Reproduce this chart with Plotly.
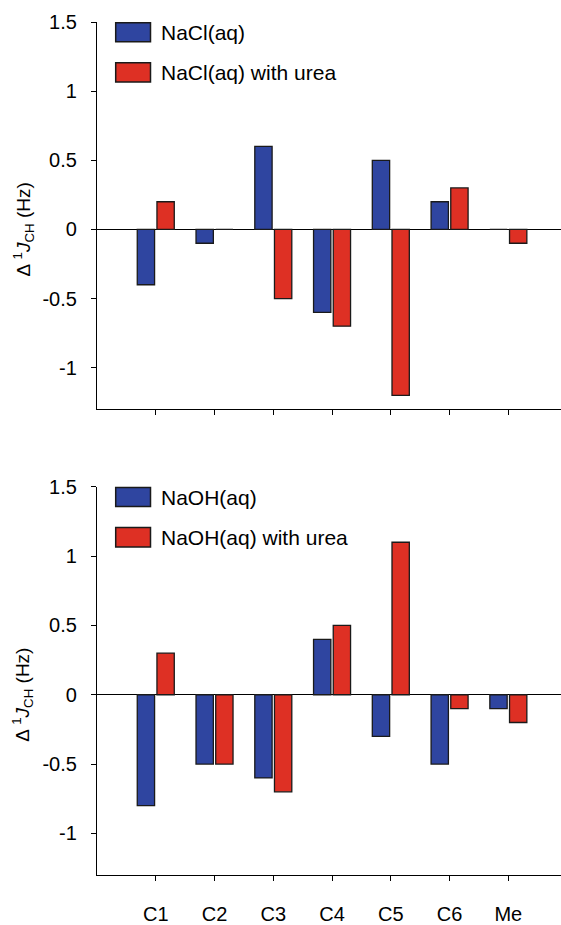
import plotly.graph_objects as go
from plotly.subplots import make_subplots

categories = ["C1", "C2", "C3", "C4", "C5", "C6", "Me"]

nacl = [-0.4, -0.1, 0.6, -0.6, 0.5, 0.2, 0.0]
nacl_urea = [0.2, 0.0, -0.5, -0.7, -1.2, 0.3, -0.1]

naoh = [-0.8, -0.5, -0.6, 0.4, -0.3, -0.5, -0.1]
naoh_urea = [0.3, -0.5, -0.7, 0.5, 1.1, -0.1, -0.2]

series_names_top = ["NaCl(aq)", "NaCl(aq) with urea"]
series_names_bottom = ["NaOH(aq)", "NaOH(aq) with urea"]

BLUE = "#2f45a0"
RED = "#de3024"
EDGE = "#1a1a1a"
FONT = "Liberation Sans, Arial, Helvetica, sans-serif"

fig = make_subplots(rows=2, cols=1, shared_xaxes=False, vertical_spacing=0.0)

x_idx = list(range(len(categories)))

for row, (a, b, names) in enumerate(
    [(nacl, nacl_urea, series_names_top), (naoh, naoh_urea, series_names_bottom)], start=1
):
    fig.add_trace(go.Bar(x=x_idx, y=a, name=names[0], marker=dict(color=BLUE, line=dict(color=EDGE, width=1.3)),
                         showlegend=False), row=row, col=1)
    fig.add_trace(go.Bar(x=x_idx, y=b, name=names[1], marker=dict(color=RED, line=dict(color=EDGE, width=1.3)),
                         showlegend=False), row=row, col=1)

W, H = 561, 925
ml, mt, mb, mr = 97, 22, 46, 0
ph = H - mt - mb
top_dom = [1 - (411 - mt) / ph, 1.0]
bot_dom = [0.0, 1 - (489 - mt) / ph]

axis_common = dict(showline=True, linecolor="black", linewidth=1.3, ticks="outside", ticklen=5,
                   tickwidth=1.3, tickcolor="black", showgrid=False,
                   tickfont=dict(family=FONT, size=20, color="black"))

fig.update_layout(
    width=W, height=H,
    margin=dict(l=ml, r=mr, t=mt, b=mb),
    plot_bgcolor="white", paper_bgcolor="white",
    barmode="group", bargap=0.33, bargroupgap=0.12,
    font=dict(family=FONT, color="black"),
    showlegend=False,
)

fig.update_xaxes(**axis_common, domain=[0, 1], range=[-1, 6.896], tickvals=x_idx, ticktext=categories, zeroline=False)
fig.update_xaxes(showticklabels=False, row=1, col=1)
fig.update_xaxes(ticklabelstandoff=16, row=2, col=1)
fig.update_yaxes(**axis_common, range=[-1.3, 1.5], tickvals=[-1, -0.5, 0, 0.5, 1, 1.5],
                 ticktext=["-1", "-0.5", "0", "0.5", "1", "1.5"],
                 zeroline=True, zerolinecolor="black", zerolinewidth=1.2, ticklabelstandoff=10)
fig.update_yaxes(domain=top_dom, row=1, col=1)
fig.update_yaxes(domain=bot_dom, row=2, col=1)

# custom legends (large swatches) and y-axis titles
pw = W - ml - mr
bx0, bx1 = (115.7 - ml) / pw, (150.5 - ml) / pw
tx = (159 - ml) / pw
for ax_suffix, names in [("", series_names_top), ("2", series_names_bottom)]:
    xr = f"x{ax_suffix} domain"
    yr = f"y{ax_suffix} domain"
    for (y0, y1), col, nm in [((0.949, 0.998), BLUE, names[0]), ((0.845, 0.895), RED, names[1])]:
        fig.add_shape(type="rect", xref=xr, yref=yr, x0=bx0, x1=bx1, y0=y0, y1=y1,
                      fillcolor=col, line=dict(color=EDGE, width=1.5))
        fig.add_annotation(xref=xr, yref=yr, x=tx, y=(y0 + y1) / 2, text=nm, showarrow=False,
                           xanchor="left", yanchor="middle",
                           font=dict(family=FONT, size=21, color="black"))
    fig.add_annotation(xref=xr, yref=f"y{ax_suffix}", x=(23 - ml) / pw, y=0,
                       text="Δ <sup>1</sup><i>J</i><sub>CH</sub> (Hz)", textangle=-90,
                       showarrow=False, xanchor="center", yanchor="middle",
                       font=dict(family=FONT, size=19, color="black"))

fig.write_html("out.html", config={"displayModeBar": False},
               post_script="document.body.style.margin='0';document.body.style.overflow='hidden';")
